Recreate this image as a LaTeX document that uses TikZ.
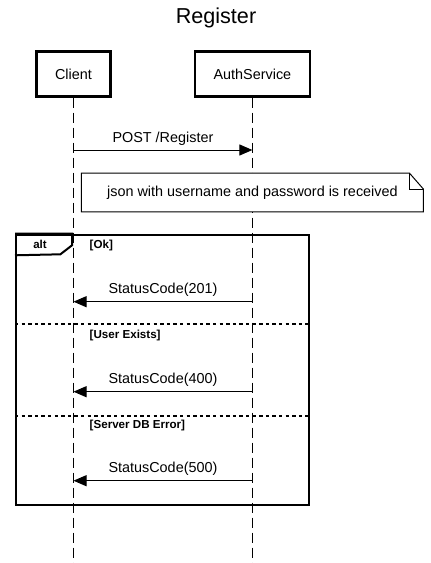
\documentclass[tikz,border=0pt]{standalone}
\usepackage{fontspec}
\setmainfont{Liberation Sans}
\usetikzlibrary{arrows.meta}

\begin{document}
\begin{tikzpicture}[x=1pt, y=-1pt, font=\fontsize{14.4}{17}\selectfont,
	actor/.style={shape=rectangle, draw, line width=2.2pt, minimum height=45pt},
	lifeline/.style={line width=1pt, dash pattern=on 10pt off 5pt},
	msg/.style={line width=1pt, -{Triangle[length=13pt, width=11pt]}},
	guard/.style={anchor=west, inner sep=0pt, font=\fontsize{11.6}{13}\selectfont\bfseries},
	separator/.style={line width=2pt, dash pattern=on 3.3pt off 3.3pt}]
	\useasboundingbox (0, 0) rectangle (431, 563);
	% Paths, nodes and wires:
	\node[font=\fontsize{21.6}{24}\selectfont] (title) at (216, 18){Register};
	\node[actor, minimum width=74pt] (client) at (73.5, 74){Client};
	\node[actor, minimum width=115.5pt] (auth) at (252.4, 74){AuthService};
	\coordinate (client end) at (73.5, 563);
	\coordinate (auth end) at (252.4, 563);
	\draw[lifeline] (client.south) -- (client end);
	\draw[lifeline] (auth.south) -- (auth end);
	\coordinate (post) at (0, 150);
	\draw[msg] (client |- post) -- (auth |- post) node[midway, above=1pt]{POST /Register};
	\node[minimum width=341.6pt, minimum height=38.5pt, fill=white, inner sep=0pt] (note) at (252.4, 192.5){json with username and password is received};
	\draw[line width=1pt] (note.north west) -- ([xshift=-14pt]note.north east) -- ([yshift=-16pt]note.north east) -- (note.south east) -- (note.south west) -- cycle;
	\draw[line width=1pt] ([xshift=-14pt]note.north east) -- ([xshift=-14pt, yshift=-16pt]note.north east) -- ([yshift=-16pt]note.north east);
	\node[draw, line width=2pt, minimum width=293pt, minimum height=270.5pt, inner sep=0pt] (alt) at (162.5, 369.75){};
	\draw[line width=2pt] (alt.north west) -- ++(57, 0) -- ++(0, 11.8) -- ++(-11.6, 9) -- (alt.north west |- 0, 255.3);
	\node[font=\fontsize{11.5}{13}\selectfont\bfseries] (alt label) at (40, 244.5){alt};
	\node[guard] (ok) at (89.5, 245){[Ok]};
	\coordinate (s201) at (0, 301.7);
	\draw[msg] (auth |- s201) -- (client |- s201) node[midway, above=1pt]{StatusCode(201)};
	\coordinate (sep1) at (0, 324.3);
	\draw[separator] (alt.west |- sep1) -- (alt.east |- sep1);
	\node[guard] (exists) at (89.5, 335){[User Exists]};
	\coordinate (s400) at (0, 391.7);
	\draw[msg] (auth |- s400) -- (client |- s400) node[midway, above=1pt]{StatusCode(400)};
	\coordinate (sep2) at (0, 416);
	\draw[separator] (alt.west |- sep2) -- (alt.east |- sep2);
	\node[guard] (dberror) at (89.5, 425.5){[Server DB Error]};
	\coordinate (s500) at (0, 480.7);
	\draw[msg] (auth |- s500) -- (client |- s500) node[midway, above=1pt]{StatusCode(500)};
\end{tikzpicture}
\end{document}
